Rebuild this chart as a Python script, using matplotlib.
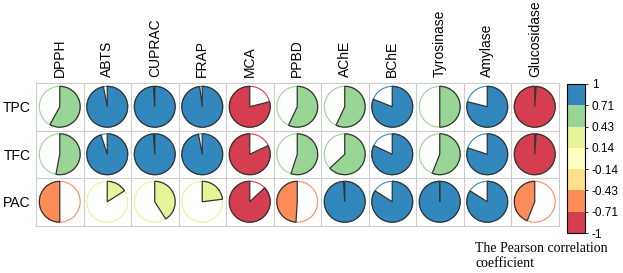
import numpy as np
import matplotlib
matplotlib.use("Agg")
import matplotlib.pyplot as plt
from matplotlib.patches import Wedge, Circle
from matplotlib.colors import ListedColormap, BoundaryNorm
from matplotlib.colorbar import ColorbarBase

plt.rcParams['font.family'] = ['Liberation Sans', 'DejaVu Sans']

rows = ['TPC', 'TFC', 'PAC']
cols = ['DPPH', 'ABTS', 'CUPRAC', 'FRAP', 'MCA', 'PPBD', 'AChE', 'BChE',
        'Tyrosinase', 'Amylase', 'Glucosidase']

# pearson r
tpc = [0.58, 0.97, 0.99, 0.98, -0.79, 0.57, 0.57, 0.81, 0.50, 0.79, -0.99]
tfc = [0.53, 0.95, 0.99, 0.97, -0.82, 0.55, 0.63, 0.82, 0.56, 0.80, -0.99]
pac = [-0.50, 0.16, 0.41, 0.23, -0.87, -0.49, 0.99, 0.84, 0.998, 0.84, -0.44]

bounds = [-1, -0.71, -0.43, -0.14, 0.14, 0.43, 0.71, 1]
bin_colors = ['#D53E4F', '#FC8D59', '#FEE08B', '#FFFFBF', '#E6F598', '#99D594', '#3288BD']

cmap = ListedColormap(bin_colors)
norm = BoundaryNorm(bounds, cmap.N)

W, H = 623, 273
fig = plt.figure(figsize=(W / 100, H / 100), dpi=100)

cell = 47.5
left, top = 36, 83
ax = fig.add_axes([left / W, (H - top - 3 * cell) / H, 11 * cell / W, 3 * cell / H])
ax.set_xlim(0, 11)
ax.set_ylim(0, 3)

grid_c = '#CCCCCC'
for i in range(1, 11):
    ax.axvline(i, color=grid_c, lw=0.8, zorder=0)
for j in range(1, 3):
    ax.axhline(j, color=grid_c, lw=0.8, zorder=0)
for s in ax.spines.values():
    s.set_color(grid_c)
    s.set_linewidth(0.8)

data = [tpc, tfc, pac]
rad = 0.43
for ri, vals in enumerate(data):
    yc = 2.5 - ri
    for ci, v in enumerate(vals):
        xc = ci + 0.5
        col = cmap(norm(v))
        ax.add_patch(Circle((xc, yc), rad, fill=False, edgecolor=col, lw=0.8, zorder=2))
        if v >= 0:
            t1, t2 = 90 - 360 * v, 90
        else:
            t1, t2 = 90, 90 - 360 * v
        ax.add_patch(Wedge((xc, yc), rad, t1, t2, facecolor=col,
                           edgecolor='#333333', lw=0.9, zorder=3))

ax.xaxis.tick_top()
ax.set_xticks(np.arange(11) + 0.5)
ax.set_xticklabels(cols, rotation=90, fontsize=10)
ax.set_yticks([2.5, 1.5, 0.5])
ax.set_yticklabels(rows, fontsize=10)
ax.tick_params(length=0, pad=4)

cax = fig.add_axes([567 / W, (H - 233) / H, 18 / W, 149 / H])
cb = ColorbarBase(cax, cmap=cmap, norm=norm, boundaries=bounds, ticks=bounds)
cb.ax.set_yticklabels(['-1', '-0.71', '-0.43', '-0.14', '0.14', '0.43', '0.71', '1'])
cb.ax.tick_params(labelsize=8.5, length=2, width=0.6, pad=3)
cb.outline.set_linewidth(0.8)

fig.text(475 / W, 1 - 252 / H, 'The Pearson correlation', fontsize=10,
         family='Liberation Serif')
fig.text(475 / W, 1 - 267 / H, 'coefficient', fontsize=10, family='Liberation Serif')

fig.savefig('out.png', dpi=100)
